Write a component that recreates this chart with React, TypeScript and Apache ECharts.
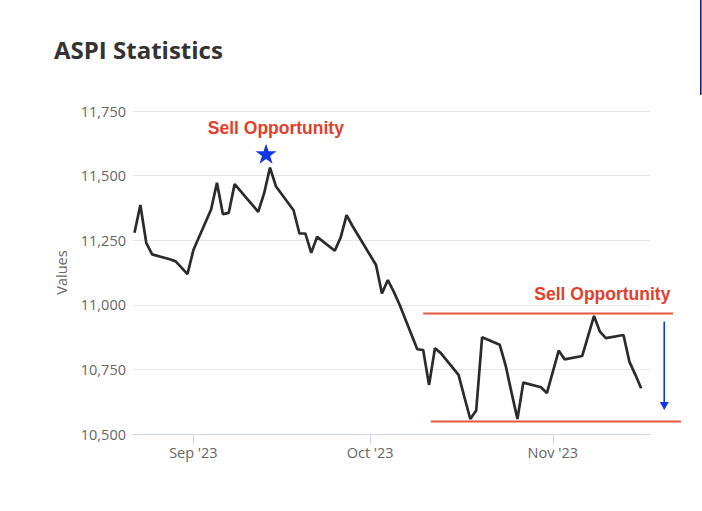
import React, { useEffect, useRef } from "react";
import * as echarts from "echarts";

// ---- data ----
const dates = [
  "2023-08-22", "2023-08-23", "2023-08-24", "2023-08-25", "2023-08-28", "2023-08-29", "2023-08-31",
  "2023-09-01", "2023-09-04", "2023-09-05", "2023-09-06", "2023-09-07", "2023-09-08",
  "2023-09-11", "2023-09-12", "2023-09-13", "2023-09-14", "2023-09-15",
  "2023-09-18", "2023-09-19", "2023-09-20", "2023-09-21", "2023-09-22",
  "2023-09-25", "2023-09-26", "2023-09-27", "2023-09-28",
  "2023-10-02", "2023-10-03", "2023-10-04", "2023-10-05", "2023-10-06",
  "2023-10-09", "2023-10-10", "2023-10-11", "2023-10-12", "2023-10-13",
  "2023-10-16", "2023-10-17", "2023-10-18", "2023-10-19", "2023-10-20",
  "2023-10-23", "2023-10-24", "2023-10-25", "2023-10-26", "2023-10-27",
  "2023-10-30", "2023-10-31", "2023-11-01", "2023-11-02", "2023-11-03",
  "2023-11-06", "2023-11-07", "2023-11-08", "2023-11-09", "2023-11-10",
  "2023-11-13", "2023-11-14", "2023-11-15", "2023-11-16",
];
const values = [
  11279, 11386, 11240, 11195, 11176, 11168, 11119,
  11212, 11369, 11472, 11351, 11356, 11467,
  11387, 11360, 11431, 11531, 11459,
  11366, 11276, 11276, 11201, 11263,
  11209, 11261, 11347, 11305,
  11154, 11044, 11096, 11051, 11000,
  10828, 10825, 10690, 10832, 10813,
  10729, 10643, 10558, 10591, 10874,
  10845, 10765, 10660, 10558, 10699,
  10681, 10658, 10740, 10823, 10789,
  10802, 10880, 10957, 10896, 10871,
  10883, 10780, 10730, 10677,
];
const yMin = 10500;
const yMax = 11750;
const yStep = 250;
const xRange = ["2023-08-21 18:00", "2023-11-17 12:00"];
const monthNames = ["Jan", "Feb", "Mar", "Apr", "May", "Jun", "Jul", "Aug", "Sep", "Oct", "Nov", "Dec"];

// annotations (data space)
const starAt: [string, number] = ["2023-09-13 08:00", 11585];
const noteTexts = ["Sell Opportunity", "Sell Opportunity"];
const noteDates = ["2023-09-15 00:00", "2023-11-09 10:00"];
const noteValues = [11683, 11042];
const bandStart = ["2023-10-10 00:00", "2023-10-11 07:00"];
const bandEnd = ["2023-11-21 10:00", "2023-11-22 18:00"];
const bandValues = [10966, 10548];
const arrowDate = "2023-11-19 22:00";
const arrowValues = [10935, 10593];

const toTs = (s: string) => {
  const [d, t = "00:00"] = s.split(" ");
  const [y, m, dd] = d.split("-").map(Number);
  const [h, mi] = t.split(":").map(Number);
  return new Date(y, m - 1, dd, h, mi).getTime();
};

const FONT = "'Open Sans', 'DejaVu Sans', sans-serif";
const RED = "#e2402c";
const LINE_RED = "#e5563f";
const BLUE = "#1238e6";

export default function App() {
  const ref = useRef<HTMLDivElement>(null);
  useEffect(() => {
    if (!ref.current) return;
    const chart = echarts.init(ref.current, undefined, { renderer: "svg" });
    const option: any = {
      animation: false,
      backgroundColor: "#ffffff",
      title: {
        text: "ASPI Statistics",
        left: 49,
        top: 32,
        textStyle: { fontFamily: FONT, fontWeight: 700, fontSize: 24, color: "#333333" },
      },
      grid: { left: 133, right: 52, top: 111, bottom: 77, outerBoundsMode: "none" },
      xAxis: {
        type: "time",
        min: toTs(xRange[0]),
        max: toTs(xRange[1]),
        splitNumber: 3,
        minInterval: 28 * 86400000,
        maxInterval: 31 * 86400000,
        axisLine: { show: true, lineStyle: { color: "#ccd6eb", width: 1 } },
        axisTick: { show: true, length: 10, lineStyle: { color: "#ccd6eb" } },
        splitLine: { show: false },
        axisLabel: {
          color: "#666666",
          fontFamily: FONT,
          fontSize: 14.5,
          margin: 11,
          formatter: (v: number) => {
            const d = new Date(v);
            return monthNames[d.getMonth()] + " '" + String(d.getFullYear()).slice(2);
          },
        },
      },
      yAxis: {
        type: "value",
        min: yMin,
        max: yMax,
        interval: yStep,
        name: "Values",
        nameLocation: "middle",
        nameGap: 64,
        nameTextStyle: { color: "#666666", fontFamily: FONT, fontSize: 14.5 },
        axisLine: { show: false },
        axisTick: { show: false },
        splitLine: { lineStyle: { color: "#e6e6e6", width: 1 } },
        axisLabel: {
          color: "#666666",
          fontFamily: FONT,
          fontSize: 14.5,
          margin: 7,
          formatter: (v: number) => v.toLocaleString("en-US"),
        },
      },
      series: [
        {
          type: "line",
          data: dates.map((d, i) => [toTs(d), values[i]]),
          showSymbol: false,
          symbol: "none",
          lineStyle: { color: "#2b2b2b", width: 2.7 },
          markPoint: {
            symbol: "path://M50,0 L61.8,35.4 L99,35.4 L69,57.3 L80.4,92.7 L50,70.8 L19.6,92.7 L31,57.3 L1,35.4 L38.2,35.4 Z",
            symbolSize: [21, 20],
            itemStyle: { color: BLUE },
            label: { show: false },
            data: [{ coord: [toTs(starAt[0]), starAt[1]] }],
          },
        },
      ],
    };
    chart.setOption(option);

    const px = (d: string, v: number) => chart.convertToPixel({ seriesIndex: 0 }, [toTs(d), v]) as number[];
    const graphics: any[] = [];
    bandValues.forEach((v, i) => {
      const a = px(bandStart[i], v);
      const b = px(bandEnd[i], v);
      graphics.push({
        type: "line",
        shape: { x1: a[0], y1: a[1], x2: b[0], y2: b[1] },
        style: { stroke: LINE_RED, lineWidth: 2 },
        z: 10,
      });
    });
    noteTexts.forEach((t, i) => {
      const p = px(noteDates[i], noteValues[i]);
      graphics.push({
        type: "text",
        x: p[0],
        y: p[1],
        style: {
          text: t,
          fill: RED,
          fontFamily: "'Liberation Sans', Arial, sans-serif",
          fontWeight: "bold",
          fontSize: 17.5,
          align: "center",
          verticalAlign: "middle",
        },
        z: 10,
      });
    });
    const a0 = px(arrowDate, arrowValues[0]);
    const a1 = px(arrowDate, arrowValues[1]);
    graphics.push({
      type: "line",
      shape: { x1: a0[0], y1: a0[1], x2: a1[0], y2: a1[1] - 7 },
      style: { stroke: BLUE, lineWidth: 1.6 },
      z: 10,
    });
    graphics.push({
      type: "polygon",
      shape: { points: [[a1[0] - 4.5, a1[1] - 8], [a1[0] + 4.5, a1[1] - 8], [a1[0], a1[1]]] },
      style: { fill: BLUE },
      z: 10,
    });
    // screenshot edge artifact at the right border
    graphics.push({
      type: "line",
      shape: { x1: 700.8, y1: 0, x2: 700.8, y2: 95 },
      style: { stroke: "#1c1f6b", lineWidth: 1.6 },
      z: 10,
    });
    chart.setOption({ graphic: graphics });

    return () => chart.dispose();
  }, []);

  return (
    <div
      ref={ref}
      style={{ position: "fixed", left: 0, top: 0, width: 702, height: 511, background: "#fff" }}
    />
  );
}
